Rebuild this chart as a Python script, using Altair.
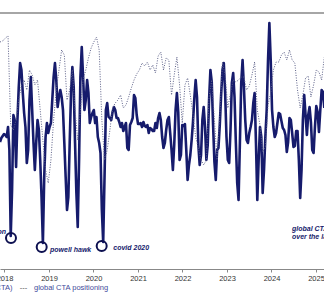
import altair as alt
import pandas as pd

# ---- data ----
START_YEAR = 2017.899          # first observation (decimal year)
SOLID_STEP_DAYS = 11           # spacing of the solid series
DOTTED_STEP_DAYS = 22          # spacing of the dotted series

# change in CTA positioning (solid navy line), arbitrary index units
solid_vals = [
    -1, 3, 5, 7, 6, 4, 14, -9, -95, -49,
    26, 21, -26, 21, 54, 78, 71, 48, 28, 14,
    -22, -9, 41, 64, 31, -2, -29, -2, 21, 11,
    -19, -56, -102, -36, 4, 18, 8, 14, 18, 41,
    64, 78, 61, 34, 44, 51, 44, 31, -2, -36,
    -69, -56, -2, 48, 74, 54, -2, -52, -86, -19,
    64, 94, 64, 31, 41, 61, 48, 18, 24, 28,
    31, 18, 24, 4, -2, -12, -69, -101, -36, 31,
    38,
    24, 23, 21, 29, 34, 31, 23, 23, 19, 14,
    18, 10, 14, 18, -7, -9, 16, 19, 23, 46,
    43, 26, 17, 17, 18, 14, 19, 15, 14, 16,
    8, 13, 12, 10, 10, 18, 13, 23, 28, 21,
    4, -7, -2, 11, 21, 24, 8, -9, -29, -4,
    31, 48, 29, -19, -14, 16, 15, 17, -9, -39,
    -24, -14, 1, 19, 43, 61, 44, -4, -24, -14,
    21, 34, 14, -19, -4, 41, 71, 59, 16, -21,
    -39,
    -9, -7, 16, 46, 71, 78, 48, 4, -19, -22,
    11, 58, 68, 44, -2, -42, -59, -2, 58, 81,
    54, 21, 1, -2, 8, 14, 21, 38, 48, -2,
    -59, -19, 14, 4, -52, -29, 4, 31, 81, 118,
    81, 31, 14, 4, 8, 18, 28, 27, 20, 13,
    11, 6, -11, -1, 23, 21, 8, -6, -5, 10,
    10, -19, -57, -29, 21, 46, 26, 6, 26, 34,
    19, -9, -12, 14, 35, 29, 9, 31, 51, 49,
    33,
]

# global CTA positioning (dotted line), same index units
dotted_vals = [
    99, 100, 103, 105, 16, 11, 21, 41, 56, 61,
    51, 71, 66, 56, 61, 31, 1, -29, -42, -19,
    21, 51, 71, 91, 86, 41, 51, 71, 31, 1,
    31, 61, 71, 83, 93, 99, 104, 91, 21, -19,
    -9,
    11, 33, 38, 41, 46, 33, 36, 44, 53, 61,
    67, 71, 78, 75, 79, 71, 76, 68, 85, 89,
    71, 83, 81, 46, 66, 84, 56, 18, 56, 63,
    46, 26, 4, -7, -19, -24, -19, 44, 61, 21,
    -19, 26, 79, 66, 33, 48, 61, 59, 61, 64,
    64, 51, 55, 66, 79, 31, 16, -11, -6, 36,
    48, 71, 79, 79, 86, 89, 81, 91, 81, 78,
    51, 33, 46, 63, 65, 44, 56, 71, 69, 61,
    84,
]

tick_years = [2018, 2019, 2020, 2021, 2022, 2023, 2024, 2025]

event_years = [2018.146, 2018.836, 2020.184]
event_vals = [-97, -106, -105]

label_texts = ["volmageddon", "powell hawk", "covid 2020"]
label_years = [2018.034, 2019.023, 2020.445]
label_vals = [-91, -108.5, -106.5]
label_align = ["right", "left", "left"]

note_lines = ["global CTA positioning", "over the last year"]
note_year = 2024.461
note_vals = [-88, -96]

X_DOMAIN = [2017.899, 2025.18]
Y_DOMAIN = [-128, 128]

NAVY = "#161b6c"
DOT = "#5c6088"

solid_df = pd.DataFrame({
    "t": [START_YEAR + i * SOLID_STEP_DAYS / 365.25 for i in range(len(solid_vals))],
    "v": solid_vals,
})
dotted_df = pd.DataFrame({
    "t": [START_YEAR + i * DOTTED_STEP_DAYS / 365.25 for i in range(len(dotted_vals))],
    "v": dotted_vals,
})
events_df = pd.DataFrame({"t": event_years, "v": event_vals})
labels_df = pd.DataFrame({"t": label_years, "v": label_vals, "txt": label_texts, "al": label_align})
notes_df = pd.DataFrame({"t": [note_year] * 2, "v": note_vals, "txt": note_lines})

xs = alt.Scale(domain=X_DOMAIN, nice=False, zero=False)
ys = alt.Scale(domain=Y_DOMAIN, nice=False, zero=False)

x_axis = alt.Axis(values=tick_years, format="d", grid=False, title=None,
                  domainColor="#888888", tickColor="#888888", tickSize=3,
                  labelFontSize=7.5, labelColor="#333333", labelFont="Liberation Sans",
                  labelPadding=2)

solid = alt.Chart(solid_df).mark_line(color=NAVY, strokeWidth=2.6, strokeJoin="round", clip=True).encode(
    x=alt.X("t:Q", scale=xs, axis=x_axis),
    y=alt.Y("v:Q", scale=ys, axis=None),
)

dotted = alt.Chart(dotted_df).mark_line(color=DOT, strokeWidth=1.0, strokeDash=[1, 1.5], clip=True).encode(
    x=alt.X("t:Q", scale=xs),
    y=alt.Y("v:Q", scale=ys),
)

circles = alt.Chart(events_df).mark_point(shape="circle", size=100, filled=False,
                                          color="#0d1050", strokeWidth=2, opacity=1).encode(
    x=alt.X("t:Q", scale=xs),
    y=alt.Y("v:Q", scale=ys),
)

lab_left = alt.Chart(labels_df[labels_df["al"] == "left"]).mark_text(
    align="left", baseline="middle", fontStyle="italic", fontWeight="bold",
    fontSize=7, font="Liberation Sans", color=NAVY).encode(
    x=alt.X("t:Q", scale=xs), y=alt.Y("v:Q", scale=ys), text="txt:N")

lab_right = alt.Chart(labels_df[labels_df["al"] == "right"]).mark_text(
    align="right", baseline="middle", fontStyle="italic", fontWeight="bold",
    fontSize=7, font="Liberation Sans", color=NAVY).encode(
    x=alt.X("t:Q", scale=xs), y=alt.Y("v:Q", scale=ys), text="txt:N")

notes = alt.Chart(notes_df).mark_text(
    align="left", baseline="middle", fontStyle="italic", fontWeight="bold",
    fontSize=7, font="Liberation Sans", color=NAVY).encode(
    x=alt.X("t:Q", scale=xs), y=alt.Y("v:Q", scale=ys), text="txt:N")

top_rule = alt.Chart(pd.DataFrame({"a": [0]})).mark_rule(color="#888888", strokeWidth=1.5).encode(
    x=alt.value(0), x2=alt.value(324), y=alt.value(0))

legend_df = pd.DataFrame({
    "txt": ["change in positioning (CTA)", "---", "global CTA positioning"],
})
leg1 = alt.Chart(legend_df.iloc[[0]]).mark_text(
    align="right", baseline="middle", fontSize=7.5, font="Liberation Sans", color="#3f4b9a").encode(
    x=alt.value(12.5), y=alt.value(275), text="txt:N")
leg2 = alt.Chart(legend_df.iloc[[1]]).mark_text(
    align="center", baseline="middle", fontSize=7.5, font="Liberation Sans", color="#555555").encode(
    x=alt.value(23.5), y=alt.value(274.5), text="txt:N")
leg3 = alt.Chart(legend_df.iloc[[2]]).mark_text(
    align="left", baseline="middle", fontSize=7.5, font="Liberation Sans", color="#3f4b9a").encode(
    x=alt.value(34), y=alt.value(275), text="txt:N")

chart = alt.layer(
    top_rule, solid, dotted, circles, lab_left, lab_right, notes, leg1, leg2, leg3
).properties(
    width=324, height=256,
    autosize=alt.AutoSizeParams(type="none"),
    padding={"left": 0, "top": 13, "right": 0, "bottom": 32},
    background="white",
).configure_view(strokeWidth=0)

chart.save("out.html", embed_options={"renderer": "svg", "actions": False})
